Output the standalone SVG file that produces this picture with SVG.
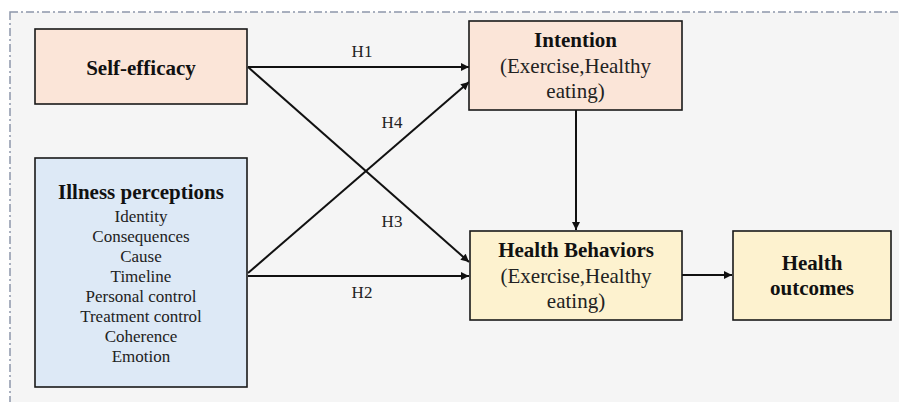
<svg xmlns="http://www.w3.org/2000/svg" width="899" height="402" viewBox="0 0 899 402">
<style>
.box{stroke:#1a1a1a;stroke-width:1.6}
.peach{fill:#fbe5d8}
.blue{fill:#dde9f6}
.yellow{fill:#fdf2cf}
.b{font-family:"Liberation Serif","Times New Roman",serif;font-weight:bold;font-size:21px;fill:#111;text-anchor:middle}
.r{font-family:"Liberation Serif","Times New Roman",serif;font-size:21px;fill:#222;text-anchor:middle}
.s{font-family:"Liberation Serif","Times New Roman",serif;font-size:17px;fill:#222;text-anchor:middle}
.lbl{font-family:"Liberation Serif","Times New Roman",serif;font-size:17px;fill:#222;text-anchor:middle}
.c{stroke:#111;stroke-width:2;fill:none;marker-end:url(#ah)}
</style>
<defs>
<marker id="ah" viewBox="0 0 10 10" refX="10" refY="5" markerWidth="4.5" markerHeight="4" markerUnits="strokeWidth" orient="auto">
<path d="M0,0 L10,5 L0,10 z" fill="#111"/>
</marker>
</defs>
<rect x="0" y="0" width="899" height="402" fill="#ffffff"/>
<rect x="10" y="12" width="900" height="400" fill="#f5f5f5" stroke="#8d97aa" stroke-width="1.5" stroke-dasharray="8,3,2,3"/>
<g id="connectors">
<line class="c" x1="248" y1="67" x2="469" y2="67"/>
<line class="c" x1="248" y1="67" x2="469" y2="262"/>
<line class="c" x1="248" y1="273" x2="469" y2="82"/>
<line class="c" x1="248" y1="276" x2="469" y2="276"/>
<line class="c" x1="576" y1="110" x2="576" y2="230"/>
<line class="c" x1="682" y1="275" x2="732" y2="275"/>
<text class="lbl" x="362" y="57">H1</text>
<text class="lbl" x="392" y="128">H4</text>
<text class="lbl" x="392" y="227">H3</text>
<text class="lbl" x="362" y="298">H2</text>
</g>
<g id="self-efficacy">
<rect class="box peach" x="35" y="29" width="212" height="75"/>
<text class="b" x="141" y="75">Self-efficacy</text>
</g>
<g id="illness-perceptions">
<rect class="box blue" x="35" y="158" width="212" height="229"/>
<text class="b" x="141" y="199">Illness perceptions</text>
<text class="s" x="141" y="222">Identity</text>
<text class="s" x="141" y="242">Consequences</text>
<text class="s" x="141" y="262">Cause</text>
<text class="s" x="141" y="282">Timeline</text>
<text class="s" x="141" y="302">Personal control</text>
<text class="s" x="141" y="322">Treatment control</text>
<text class="s" x="141" y="342">Coherence</text>
<text class="s" x="141" y="362">Emotion</text>
</g>
<g id="intention">
<rect class="box peach" x="469" y="21" width="213" height="89"/>
<text class="b" x="575.5" y="47">Intention</text>
<text class="r" x="575.5" y="73">(Exercise,Healthy</text>
<text class="r" x="575.5" y="98">eating)</text>
</g>
<g id="health-behaviors">
<rect class="box yellow" x="470" y="231" width="212" height="89"/>
<text class="b" x="576" y="257">Health Behaviors</text>
<text class="r" x="576" y="283">(Exercise,Healthy</text>
<text class="r" x="576" y="308">eating)</text>
</g>
<g id="health-outcomes">
<rect class="box yellow" x="733" y="231" width="158" height="89"/>
<text class="b" x="812" y="270">Health</text>
<text class="b" x="812" y="295">outcomes</text>
</g>
</svg>
